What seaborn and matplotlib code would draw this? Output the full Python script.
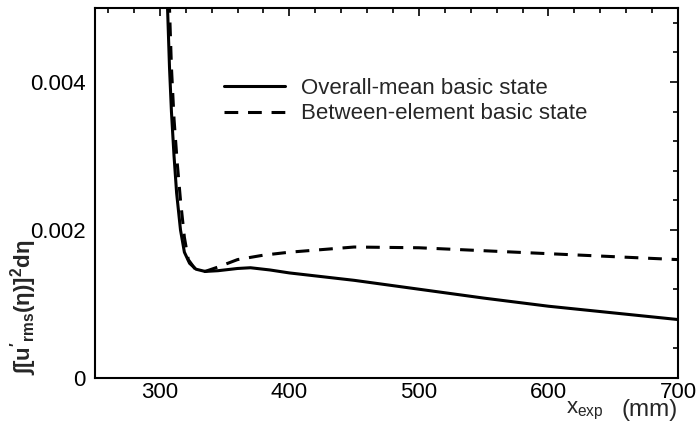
import numpy as np
import pandas as pd
import matplotlib
matplotlib.use("Agg")
import matplotlib.pyplot as plt
import seaborn as sns
from matplotlib.ticker import MultipleLocator

sns.set_theme(style="white")
plt.rcParams['font.family'] = ['Liberation Sans', 'DejaVu Sans']
plt.rcParams['mathtext.fontset'] = 'custom'
plt.rcParams['mathtext.rm'] = 'Liberation Sans'
plt.rcParams['mathtext.it'] = 'Liberation Sans'
plt.rcParams['mathtext.bf'] = 'Liberation Sans:bold'

overall_x = [305, 306, 307.5, 309, 311, 313, 316, 319, 323, 328, 335, 345, 360, 370,
             385, 400, 450, 500, 550, 600, 650, 700]
overall_y = [0.0060, 0.0050, 0.0042, 0.0036, 0.0030, 0.0025, 0.0020, 0.0017, 0.00155,
             0.00147, 0.00144, 0.00145, 0.00148, 0.00149, 0.00146, 0.00142, 0.00132,
             0.00120, 0.00108, 0.00097, 0.00088, 0.00079]
between_x = [306.5, 307.5, 309, 311, 313.5, 316, 319, 322, 327, 335, 345, 360, 380,
             400, 450, 500, 550, 600, 650, 700]
between_y = [0.0055, 0.0050, 0.0042, 0.0035, 0.0029, 0.0024, 0.0019, 0.0016, 0.00148,
             0.00144, 0.00150, 0.00160, 0.00166, 0.00170, 0.00177, 0.00176, 0.00172,
             0.00168, 0.00164, 0.00160]
labels = ["Overall-mean basic state", "Between-element basic state"]
xticks = [300, 400, 500, 600, 700]
yticks = [0, 0.002, 0.004]
ytick_labels = ["0", "0.002", "0.004"]

df = pd.concat([
    pd.DataFrame({"x": overall_x, "y": overall_y, "state": labels[0]}),
    pd.DataFrame({"x": between_x, "y": between_y, "state": labels[1]}),
])

fig = plt.figure(figsize=(6.99, 4.29), dpi=100)
ax = fig.add_axes([95/699, 1 - 378/429, (678-95)/699, (378-8)/429])

sns.lineplot(data=df, x="x", y="y", style="state", hue="state",
             palette=["black", "black"], dashes=[(None, None), (4.5, 3.2)],
             linewidth=2.2, sort=False, estimator=None, ax=ax)

ax.set_xlim(250, 700)
ax.set_ylim(0, 0.005)
ax.xaxis.set_minor_locator(MultipleLocator(20))
ax.yaxis.set_minor_locator(MultipleLocator(0.0004))
ax.set_xticks(xticks)
ax.set_xticklabels([str(t) for t in xticks])
ax.set_yticks(yticks)
ax.set_yticklabels(ytick_labels)
ax.tick_params(which="both", direction="in", top=True, right=True, colors="black",
               labelsize=16)
ax.tick_params(axis="x", which="major", pad=3)
ax.tick_params(axis="y", which="major", pad=7)
ax.tick_params(which="major", length=6, width=1.2)
ax.tick_params(which="minor", length=3.8, width=1.2)
for s in ax.spines.values():
    s.set_color("black")
    s.set_linewidth(1.5)

ax.set_xlabel("")
ax.set_ylabel("")
fig.text(24/699, 1 - 307/429, r"$\mathbf{\int[u'_{rms}(\eta)]^2d\eta}$",
         rotation=90, ha="center", va="center", fontsize=16)

ax.text(0.872, -0.058, r"$\mathrm{x_{exp}}$", transform=ax.transAxes,
        fontsize=16, ha="right", va="top")
ax.text(1.0, -0.058, "(mm)", transform=ax.transAxes,
        fontsize=17.5, ha="right", va="top")

leg = ax.legend(loc="upper left", bbox_to_anchor=(0.187, 0.865), frameon=False,
                fontsize=16, handlelength=2.75, handletextpad=0.7, labelspacing=0.2)

fig.savefig("out.png", dpi=100)
